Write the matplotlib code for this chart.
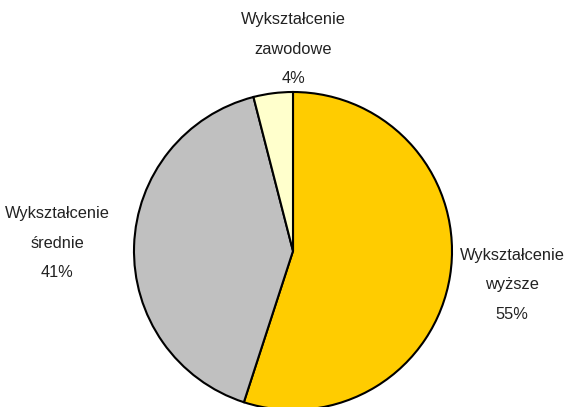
import matplotlib
matplotlib.use("Agg")
import matplotlib.pyplot as plt

# Data
categories = ["Wykształcenie\nwyższe", "Wykształcenie\nśrednie", "Wykształcenie\nzawodowe"]
shares = [55, 41, 4]
colors = ["#FFCC00", "#C0C0C0", "#FFFFCC"]

# label anchor points (pixels from top-left)
label_pos = [(512, 285), (57, 243), (293, 49)]

plt.rcParams['font.family'] = ['Liberation Sans Narrow', 'Liberation Sans', 'DejaVu Sans']

W, H = 579, 407
fig = plt.figure(figsize=(W / 100, H / 100), dpi=100)
ax = fig.add_axes([0, 0, 1, 1])

ax.pie(shares, colors=colors, startangle=90, counterclock=False,
       center=(293, H - 251), radius=159,
       wedgeprops=dict(edgecolor="black", linewidth=1.5))

ax.set_xlim(0, W)
ax.set_ylim(0, H)
ax.set_aspect("equal")
ax.axis("off")

for cat, val, (x, y) in zip(categories, shares, label_pos):
    ax.text(x, H - y, f"{cat}\n{val}%", ha="center", va="center",
            fontsize=11.8, color="#222222", linespacing=2.2)

fig.savefig("out.png", dpi=100)
